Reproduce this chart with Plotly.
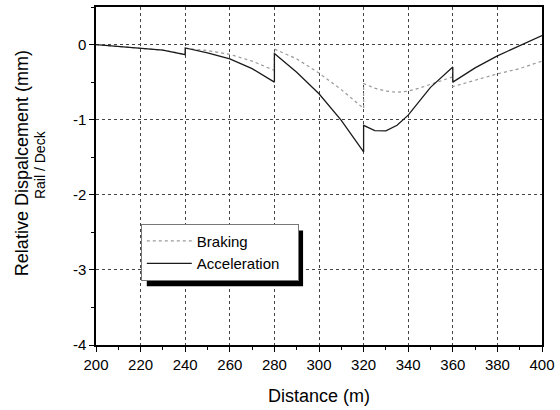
import plotly.graph_objects as go

# Relative rail/deck displacement along the bridge (mm) vs distance (m)
distance_braking = [200, 210, 220, 230, 240, 240, 250, 260, 270, 280, 280, 290, 300, 310, 320, 320,
                    325, 330, 335, 340, 345, 350, 355, 360, 360, 370, 380, 390, 400]
braking = [0.0, -0.025, -0.045, -0.075, -0.13, -0.05, -0.08, -0.13, -0.22, -0.345, -0.06, -0.19,
           -0.38, -0.60, -0.85, -0.52, -0.58, -0.62, -0.635, -0.62, -0.58, -0.53, -0.48, -0.43,
           -0.56, -0.47, -0.39, -0.32, -0.22]

distance_accel = [200, 210, 220, 230, 240, 240, 250, 260, 270, 280, 280, 290, 300, 310, 320, 320,
                  325, 330, 335, 340, 350, 360, 360, 370, 380, 390, 400]
acceleration = [0.0, -0.025, -0.045, -0.075, -0.135, -0.045, -0.11, -0.19, -0.32, -0.50, -0.12,
                -0.37, -0.655, -1.01, -1.43, -1.075, -1.145, -1.15, -1.075, -0.94, -0.57, -0.30,
                -0.50, -0.31, -0.15, -0.01, 0.12]

x_ticks = list(range(200, 401, 20))
y_ticks = [0, -1, -2, -3, -4]
y_tick_labels = ["0", "-1", "-2", "-3", "-4"]

FONT = "Liberation Sans, Arial, sans-serif"
PAD = "\u00a0\u00a0\u00a0"  # extra room on the right of the legend entries

fig = go.Figure()
fig.add_trace(go.Scatter(x=distance_braking, y=braking, mode="lines", name="Braking" + PAD,
                         line=dict(color="#999999", width=1.2, dash="dot")))
fig.add_trace(go.Scatter(x=distance_accel, y=acceleration, mode="lines", name="Acceleration" + PAD,
                         line=dict(color="#1a1a1a", width=1.3)))

axis_common = dict(showline=True, linecolor="black", linewidth=1.5, mirror=True,
                   ticks="outside", ticklen=5, tickcolor="black", tickwidth=1,
                   showgrid=True, gridcolor="#444", griddash="dot", gridwidth=1,
                   zeroline=False, tickfont=dict(size=15, color="black", family=FONT))

fig.update_xaxes(range=[200, 400], tickvals=x_ticks,
                 minor=dict(dtick=10, tick0=200, ticks="outside", ticklen=3, tickcolor="black", showgrid=False),
                 title=dict(text="Distance (m)", font=dict(size=18, color="black", family=FONT), standoff=18),
                 **axis_common)
fig.update_yaxes(range=[-4, 0.5], tickvals=y_ticks, ticktext=y_tick_labels,
                 minor=dict(dtick=0.5, tick0=0, ticks="outside", ticklen=3, tickcolor="black", showgrid=False),
                 **axis_common)

# Two-line y axis caption in different sizes
fig.add_annotation(text="Relative Dispalcement (mm)", xref="paper", yref="paper",
                   x=(21 - 96) / 448, y=(345 - 162) / 339.5, xanchor="center", yanchor="middle",
                   textangle=-90, showarrow=False,
                   font=dict(size=18, color="black", family=FONT))
fig.add_annotation(text="Rail / Deck", xref="paper", yref="paper",
                   x=(40 - 96) / 448, y=(345 - 164) / 339.5, xanchor="center", yanchor="middle",
                   textangle=-90, showarrow=False,
                   font=dict(size=14, color="black", family=FONT))

# Drop shadow behind the legend box
fig.add_shape(type="rect", xref="paper", yref="paper",
              x0=(147 - 96) / 448, x1=(304 - 96) / 448,
              y0=(345 - 286) / 339.5, y1=(345 - 230) / 339.5,
              fillcolor="black", line=dict(width=0), layer="above")

fig.update_layout(
    width=560, height=410,
    margin=dict(l=96, r=16, t=5, b=65),
    paper_bgcolor="white", plot_bgcolor="white",
    font=dict(family=FONT, color="black"),
    legend=dict(x=(141 - 96) / 448, y=(345 - 223) / 339.5, xanchor="left", yanchor="top",
                bgcolor="white", bordercolor="#777", borderwidth=1,
                font=dict(size=15, color="black", family=FONT),
                itemwidth=45, tracegroupgap=0),
    showlegend=True,
)

fig.write_html("out.html")
